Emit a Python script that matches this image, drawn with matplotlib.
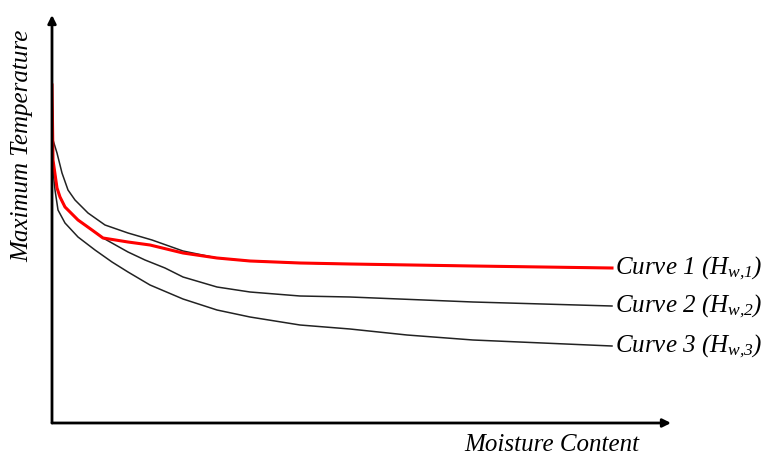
import matplotlib.pyplot as plt

# schematic: moisture content vs maximum temperature (arbitrary units)
curve1_x = [0, 1, 5, 10, 16, 23, 36, 53, 76, 100, 131, 165, 198, 248, 298, 421, 560]
curve1_y = [328, 283, 270, 250, 233, 223, 210, 198, 190, 183, 172, 165, 162, 160, 159, 157, 155]

curve2_x = [0, 1, 5, 8, 13, 26, 40, 51, 76, 93, 113, 131, 165, 198, 248, 298, 421, 560]
curve2_y = [338, 263, 235, 226, 216, 203, 193, 185, 171, 163, 155, 146, 136, 131, 127, 126, 121, 117]

curve3_x = [0, 1, 3, 6, 13, 26, 43, 60, 76, 98, 131, 165, 198, 248, 298, 355, 421, 560]
curve3_y = [313, 253, 233, 213, 200, 186, 173, 161, 151, 138, 124, 113, 106, 98, 94, 88, 83, 77]

# highlighted envelope: follows curve 2, then switches to curve 1
red_x = [0, 1, 5, 8, 13, 26, 40, 51, 76, 98, 131, 165, 198, 248, 298, 421, 560]
red_y = [338, 263, 235, 226, 216, 203, 193, 185, 181, 178, 170, 165, 162, 160, 159, 157, 155]

labels = [r"Curve 1 ($H_{w{,}1}$)", r"Curve 2 ($H_{w{,}2}$)", r"Curve 3 ($H_{w{,}3}$)"]

plt.rcParams.update({
    "mathtext.fontset": "custom",
    "mathtext.rm": "Liberation Serif:italic",
    "mathtext.it": "Liberation Serif:italic",
})

W, H = 781, 458
fig = plt.figure(figsize=(W / 100, H / 100), dpi=100)
x0, y0 = 52, 423          # pixel position of the origin
xmax, ymax = 619, 408     # arrow tips
ax = fig.add_axes([x0 / W, (H - y0) / H, xmax / W, ymax / H])
ax.set_xlim(0, xmax)
ax.set_ylim(0, ymax)
ax.axis("off")

ax.plot(curve1_x, curve1_y, color="#222222", lw=1.1, zorder=2)
ax.plot(curve2_x, curve2_y, color="#222222", lw=1.1, zorder=2)
ax.plot(curve3_x, curve3_y, color="#222222", lw=1.1, zorder=2)
ax.plot(red_x, red_y, color="#ff0000", lw=2.2, zorder=3)

arrow = dict(arrowstyle="-|>", color="black", lw=2.0, mutation_scale=12,
             shrinkA=0, shrinkB=0)
ax.annotate("", xy=(xmax, 0), xytext=(0, 0), arrowprops=arrow,
            annotation_clip=False, zorder=4)
ax.annotate("", xy=(0, ymax), xytext=(0, 0), arrowprops=arrow,
            annotation_clip=False, zorder=4)

font = dict(family="Liberation Serif", style="italic", fontsize=18)
ends = [curve1_y[-1], curve2_y[-1], curve3_y[-1]]
for lab, yv in zip(labels, ends):
    ax.text(563, yv, lab, ha="left", va="center", clip_on=False, **font)

ax.text(500, -22, "Moisture Content", ha="center", va="center", **font)
ax.text(-30, 277, "Maximum Temperature", ha="center", va="center",
        rotation=90, **font)

fig.savefig("out.png", dpi=100, facecolor="white")
